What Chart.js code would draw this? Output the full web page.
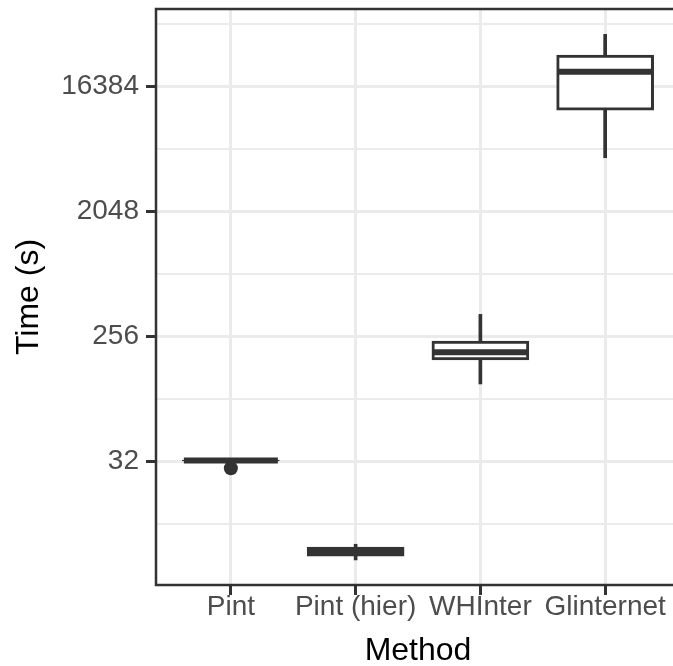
<!DOCTYPE html>
<html>
<head>
<meta charset="utf-8">
<script src="https://cdn.jsdelivr.net/npm/chart.js@4.4.1/dist/chart.umd.min.js"></script>
<style>
  html, body { margin: 0; padding: 0; background: #fff; overflow: hidden; }
  #wrap { width: 700px; height: 666px; }
</style>
</head>
<body>
<div id="wrap"><canvas id="chart" width="700" height="666"></canvas></div>
<script>
// boxplot stats per method, time in seconds (log2 axis)
const methods = ['Pint', 'Pint (hier)', 'WHInter', 'Glinternet'];
const whiskerLow = [32.6, 6.24, 116.6, 5025];
const quartile1 = [32.4, 6.64, 174, 11110];
const medians = [32.6, 7.16, 198, 21010];
const quartile3 = [32.8, 7.72, 238, 27750];
const whiskerHigh = [32.6, 8.1, 371, 39150];
const outlierMethod = [1];
const outlierTime = [28.7];

const majorTicks = [32, 256, 2048, 16384];
const minorTicks = [2 ** 3.5, 2 ** 6.5, 2 ** 9.5, 2 ** 12.5, 2 ** 15.5];

const DARK = '#333333';
const GRID = '#EBEBEB';
const FONT = "'Liberation Sans', Arial, sans-serif";

const xs = methods.map((_, i) => i + 1);

// panel border like theme_bw
const panelBorder = {
    id: 'panelBorder',
    afterDatasetsDraw(chart) {
        const { ctx, chartArea: a } = chart;
        ctx.save();
        ctx.strokeStyle = DARK;
        ctx.lineWidth = 2.5;
        ctx.strokeRect(a.left, a.top, a.right - a.left, a.bottom - a.top);
        ctx.restore();
    }
};

function noPadding(scale) {
    scale.paddingLeft = 0;
    scale.paddingRight = 0;
    scale.paddingTop = 0;
    scale.paddingBottom = 0;
}

new Chart(document.getElementById('chart').getContext('2d'), {
    type: 'bar',
    data: {
        datasets: [
            {
                label: 'whisker',
                data: xs.map((x, i) => ({ x, y: [whiskerLow[i], whiskerHigh[i]] })),
                backgroundColor: DARK,
                borderWidth: 0,
                barThickness: 3,
                grouped: false,
                order: 4
            },
            {
                label: 'box',
                data: xs.map((x, i) => ({ x, y: [quartile1[i], quartile3[i]] })),
                backgroundColor: '#ffffff',
                borderColor: DARK,
                borderWidth: 3,
                borderSkipped: false,
                barThickness: 97,
                grouped: false,
                order: 3
            },
            {
                type: 'scatter',
                label: 'median',
                data: xs.map((x, i) => ({ x, y: medians[i] })),
                pointStyle: 'line',
                pointRadius: 47,
                borderColor: DARK,
                borderWidth: 6,
                order: 2
            },
            {
                type: 'scatter',
                label: 'outlier',
                data: outlierMethod.map((m, i) => ({ x: m, y: outlierTime[i] })),
                pointStyle: 'circle',
                pointRadius: 7,
                backgroundColor: DARK,
                borderWidth: 0,
                order: 1
            }
        ]
    },
    options: {
        responsive: false,
        animation: false,
        layout: { autoPadding: false, padding: { top: 9, right: 20, bottom: 0, left: 0 } },
        plugins: {
            legend: { display: false },
            tooltip: { enabled: false }
        },
        scales: {
            x: {
                type: 'linear',
                min: 0.4,
                max: 4.6,
                offset: false,
                afterBuildTicks: scale => { scale.ticks = xs.map(v => ({ value: v })); },
                afterFit: scale => { scale.height = 81; noPadding(scale); },
                border: { display: false },
                grid: {
                    offset: false,
                    color: GRID,
                    lineWidth: 3,
                    tickColor: DARK,
                    tickWidth: 3,
                    tickLength: 10
                },
                ticks: {
                    autoSkip: false,
                    maxRotation: 0,
                    padding: -5,
                    color: '#4D4D4D',
                    font: { family: FONT, size: 28 },
                    callback: v => methods[v - 1] || ''
                },
                title: {
                    display: true,
                    text: 'Method',
                    color: '#000000',
                    font: { family: FONT, size: 32 },
                    padding: { top: 0, bottom: -4 }
                }
            },
            y: {
                type: 'logarithmic',
                min: 2 ** 2.04,
                max: 2 ** 15.865,
                afterBuildTicks: scale => {
                    scale.ticks = majorTicks.map(v => ({ value: v }))
                        .concat(minorTicks.map(v => ({ value: v, minor: true })));
                },
                afterFit: scale => { scale.width = 156; noPadding(scale); },
                border: { display: false },
                grid: {
                    color: GRID,
                    lineWidth: c => (c.tick && c.tick.minor ? 2 : 3),
                    tickColor: c => (c.tick && c.tick.minor ? 'rgba(0,0,0,0)' : DARK),
                    tickWidth: 3,
                    tickLength: 10
                },
                ticks: {
                    autoSkip: false,
                    padding: 7,
                    color: '#4D4D4D',
                    font: { family: FONT, size: 28 },
                    callback: v => (majorTicks.includes(v) ? String(v) : '')
                },
                title: {
                    display: true,
                    text: 'Time (s)',
                    color: '#000000',
                    font: { family: FONT, size: 32 },
                    padding: { top: 10, bottom: 0 }
                }
            }
        }
    },
    plugins: [panelBorder]
});
</script>
</body>
</html>
